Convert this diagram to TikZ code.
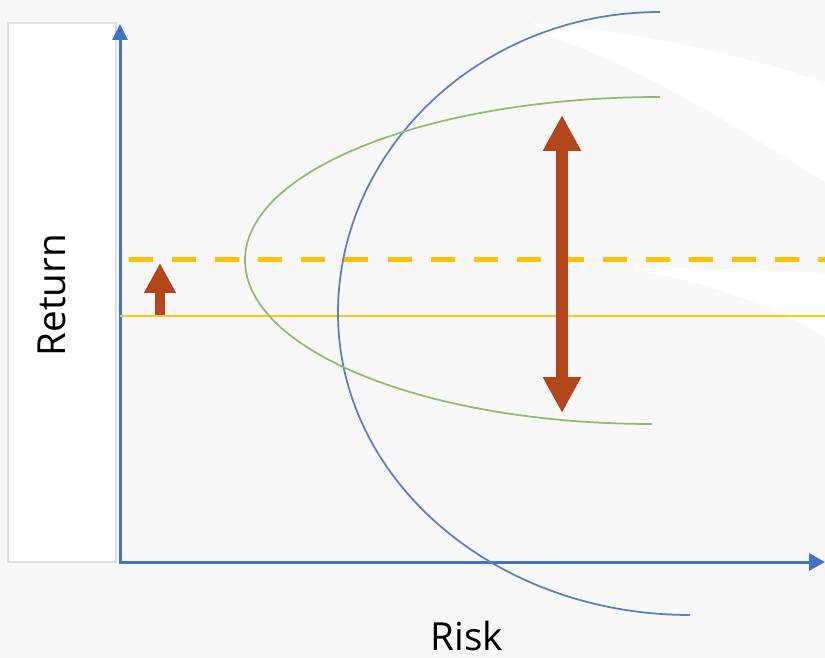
\documentclass[tikz,border=0pt]{standalone}
\usepackage{fontspec}
\setmainfont{Open Sans}
\usepackage{tikz}
\usetikzlibrary{arrows.meta}
\definecolor{bggray}{HTML}{F8F8F8}
\definecolor{axisblue}{HTML}{4472C4}
\definecolor{curveblue}{HTML}{5B7DC6}
\definecolor{curvegreen}{HTML}{8FBB6E}
\definecolor{goldline}{HTML}{FFC000}
\definecolor{rustred}{HTML}{B5461B}

\begin{document}
\begin{tikzpicture}[x=0.02cm,y=-0.02cm,
    axisline/.style={axisblue,line width=0.06cm,line join=miter},
    frontier/.style={line width=0.035cm},
    shiftarrow/.style={rustred,line width=0.2cm,-{Triangle[width=0.6cm,length=0.6cm]}},
    spreadarrow/.style={rustred,line width=0.24cm,{Triangle[width=0.72cm,length=0.72cm]}-{Triangle[width=0.72cm,length=0.72cm]}},
    lbl/.style={font=\fontsize{22}{26}\selectfont,text=black}]
  \useasboundingbox (0,0) rectangle (825,658);
  \fill[bggray] (0,0) rectangle (825,658);
  % faint white glare on the right
  \fill[white] (533,23) .. controls (640,32) and (740,55) .. (825,82) -- (825,182)
    .. controls (740,130) and (650,70) .. (550,37) -- cycle;
  \fill[white] (633,267) .. controls (700,268) and (770,270) .. (825,273) -- (825,337)
    .. controls (770,305) and (710,282) .. (633,270) -- cycle;
  % label box for the vertical axis
  \draw[gray!25,line width=0.04cm,fill=white] (8,23) rectangle (116,562);
  \node[lbl,rotate=90] (ret) at (52,295) {Return};
  \node[lbl] (risk) at (467,636) {Risk};
  % axes
  \coordinate (O) at (120,562);
  \coordinate (ytop) at (120,24);
  \coordinate (xend) at (825,562);
  \draw[axisline,{Triangle[width=0.3cm,length=0.32cm]}-{Triangle[width=0.34cm,length=0.32cm]}]
    (ytop) -- (O) -- (xend);
  % return levels
  \coordinate (base0) at (120,316);
  \coordinate (base1) at (825,316);
  \draw[goldline!90,line width=0.04cm] (base0) -- (base1);
  \coordinate (lift0) at (129,260);
  \coordinate (lift1) at (825,260);
  \draw[goldline,line width=0.1cm,dash pattern=on 0.48cm off 0.382cm] (lift0) -- (lift1);
  % frontiers
  \draw[frontier,curveblue] (660,12) .. controls (480,12) and (338,150) .. (338,313)
    .. controls (338,480) and (495,615) .. (690,615);
  \draw[frontier,curvegreen] (660,97) .. controls (430,97) and (245,170) .. (245,260)
    .. controls (245,350) and (425,424) .. (652,424);
  % arrows
  \coordinate (s0) at (160,315);
  \coordinate (s1) at (160,263);
  \draw[shiftarrow] (s0) -- (s1);
  \coordinate (b0) at (562,115);
  \coordinate (b1) at (562,413);
  \draw[spreadarrow] (b0) -- (b1);
\end{tikzpicture}
\end{document}
